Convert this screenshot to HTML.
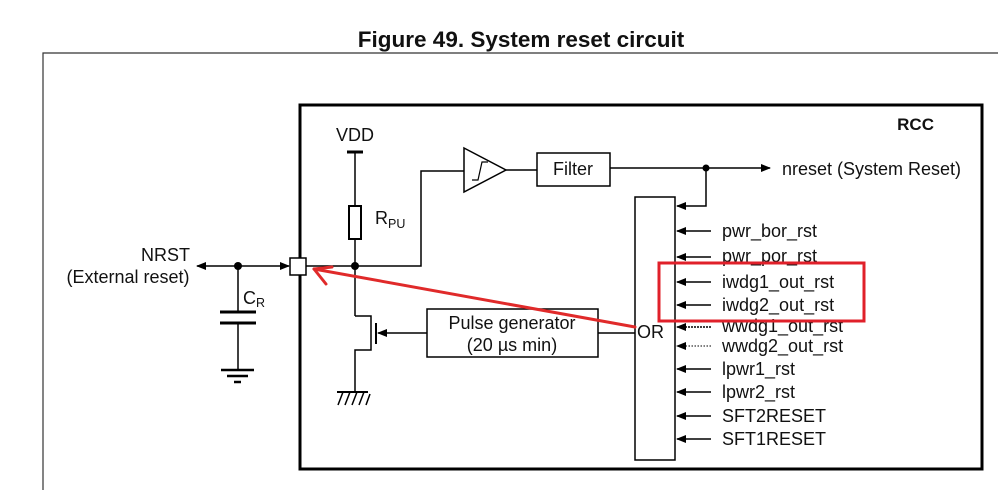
<!DOCTYPE html>
<html><head><meta charset="utf-8"><style>
html,body{margin:0;padding:0;background:#fff;}
svg{display:block;}
text{font-family:"Liberation Sans",Arial,sans-serif;fill:#111;}
</style></head><body>
<svg width="998" height="490" viewBox="0 0 998 490" xmlns="http://www.w3.org/2000/svg">
<defs>
<marker id="ah" markerWidth="10" markerHeight="8" refX="9" refY="4" orient="auto" markerUnits="userSpaceOnUse">
<path d="M0,0 L10,4 L0,8 Z" fill="#000"/></marker>
</defs>
<text x="521" y="47" font-size="22.5" font-weight="bold" text-anchor="middle">Figure 49. System reset circuit</text>
<path d="M43,490 V53 H998" fill="none" stroke="#333" stroke-width="1.2"/>
<rect x="300" y="105" width="682" height="364" fill="none" stroke="#000" stroke-width="3"/>
<text x="934" y="130" font-size="17" font-weight="bold" text-anchor="end">RCC</text>
<g stroke="#000" stroke-width="1.5" fill="none">
<line x1="347" y1="152" x2="363" y2="152" stroke-width="3"/>
<line x1="355" y1="152" x2="355" y2="316"/>
<rect x="349" y="206" width="12" height="33" fill="#fff" stroke-width="2"/>
<polyline points="306,266 421,266 421,171 464,171"/>
<polygon points="464,148 506,170 464,192" fill="#fff"/>
<path d="M472,180 h6 l4,-18 h6" stroke-width="1.2"/>
<line x1="506" y1="170" x2="537" y2="170"/>
<rect x="537" y="153" width="73" height="33" fill="#fff"/>
<line x1="610" y1="168" x2="770" y2="168" marker-end="url(#ah)"/>
<polyline points="706,168 706,206 677,206" marker-end="url(#ah)"/>
<line x1="238" y1="266" x2="197" y2="266" marker-end="url(#ah)"/>
<line x1="238" y1="266" x2="289" y2="266" marker-end="url(#ah)"/>
<rect x="290" y="258" width="16" height="17" fill="#fff"/>
<line x1="238" y1="266" x2="238" y2="312"/>
<line x1="220" y1="312" x2="256" y2="312" stroke-width="3"/>
<line x1="220" y1="323" x2="256" y2="323" stroke-width="3"/>
<line x1="238" y1="323" x2="238" y2="370"/>
<line x1="221" y1="370" x2="254" y2="370" stroke-width="2.5"/>
<line x1="227" y1="376" x2="248" y2="376" stroke-width="2.5"/>
<line x1="234" y1="382" x2="241" y2="382" stroke-width="2.5"/>
<polyline points="355,316 371,316 371,350 355,350 355,392"/>
<line x1="376" y1="323" x2="376" y2="344" stroke-width="2"/>
<line x1="427" y1="333" x2="378" y2="333" marker-end="url(#ah)"/>
<line x1="337" y1="392" x2="368" y2="392" stroke-width="2"/>
<path d="M338,405 l5,-13 M345,405 l5,-13 M352,405 l5,-13 M359,405 l5,-13 M366,405 l4,-11"/>
<rect x="427" y="309" width="171" height="48" fill="#fff"/>
<line x1="598" y1="333" x2="635" y2="333"/>
<rect x="635" y="197" width="40" height="263" fill="#fff"/>
<line x1="711" y1="231" x2="677" y2="231" marker-end="url(#ah)"/>
<line x1="711" y1="257" x2="677" y2="257" marker-end="url(#ah)"/>
<line x1="711" y1="282" x2="677" y2="282" marker-end="url(#ah)"/>
<line x1="711" y1="305" x2="677" y2="305" marker-end="url(#ah)"/>
<line x1="711" y1="327" x2="677" y2="327" stroke-dasharray="2,1" marker-end="url(#ah)"/>
<line x1="711" y1="346" x2="677" y2="346" stroke-dasharray="1.5,1.5" stroke-width="1" marker-end="url(#ah)"/>
<line x1="711" y1="369" x2="677" y2="369" marker-end="url(#ah)"/>
<line x1="711" y1="392" x2="677" y2="392" marker-end="url(#ah)"/>
<line x1="711" y1="416" x2="677" y2="416" marker-end="url(#ah)"/>
<line x1="711" y1="439" x2="677" y2="439" marker-end="url(#ah)"/>
</g>
<circle cx="355" cy="266" r="4" fill="#000"/>
<circle cx="238" cy="266" r="4" fill="#000"/>
<circle cx="706" cy="168" r="3.5" fill="#000"/>
<g font-size="18">
<text x="336" y="141">VDD</text>
<text x="375" y="224">R<tspan font-size="12.5" dy="4">PU</tspan></text>
<text x="190" y="261" text-anchor="end">NRST</text>
<text x="128" y="283" text-anchor="middle">(External reset)</text>
<text x="243" y="304">C<tspan font-size="12.5" dy="3">R</tspan></text>
<text x="573" y="175" text-anchor="middle">Filter</text>
<text x="512" y="329" text-anchor="middle">Pulse generator</text>
<text x="512" y="351" text-anchor="middle">(20 µs min)</text>
<text x="637" y="338">OR</text>
<text x="782" y="175">nreset (System Reset)</text>
<text x="722" y="237">pwr_bor_rst</text>
<text x="722" y="262">pwr_por_rst</text>
<text x="722" y="288">iwdg1_out_rst</text>
<text x="722" y="311">iwdg2_out_rst</text>
<text x="722" y="332">wwdg1_out_rst</text>
<text x="722" y="352">wwdg2_out_rst</text>
<text x="722" y="375">lpwr1_rst</text>
<text x="722" y="398">lpwr2_rst</text>
<text x="722" y="422">SFT2RESET</text>
<text x="722" y="445">SFT1RESET</text>
</g>
<rect x="659" y="263" width="205" height="58" fill="none" stroke="#e0202a" stroke-width="3"/>
<g stroke="#e02a2a" stroke-width="3" fill="none" stroke-linecap="round">
<line x1="635" y1="327" x2="314" y2="269"/>
<line x1="314" y1="269" x2="332" y2="267"/>
<line x1="314" y1="269" x2="326" y2="284"/>
</g>
</svg>
</body></html>
